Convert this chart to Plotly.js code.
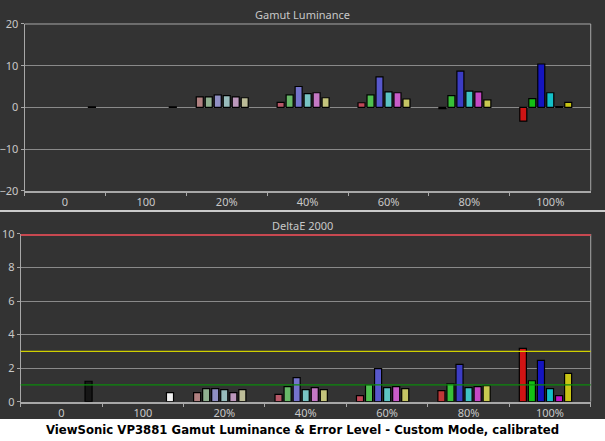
<!DOCTYPE html>
<html>
<head>
<meta charset="utf-8">
<script src="https://cdn.plot.ly/plotly-3.0.1.min.js"></script>
<style>
  html, body { margin: 0; padding: 0; background: #ffffff; }
  #chart { width: 605px; height: 441px; }
</style>
</head>
<body>
<div id="chart"></div>
<script>
// Categories along the x axis
var categories = ['0', '100', '20%', '40%', '60%', '80%', '100%'];

// Gamut luminance error (%), one array per colour
var lumRed     = [null, null, 2.5, 1.2, 1.1, -0.3, -3.3];
var lumGreen   = [null, null, 2.5, 3.0, 3.0, 2.8, 2.1];
var lumBlue    = [null, null, 3.0, 5.0, 7.3, 8.7, 10.4];
var lumCyan    = [null, null, 2.8, 3.3, 3.7, 3.9, 3.5];
var lumMagenta = [null, null, 2.5, 3.5, 3.5, 3.7, 0.2];
var lumYellow  = [null, null, 2.3, 2.3, 2.0, 1.8, 1.2];
var lumGray    = [0.1, 0.1, null, null, null, null, null];

// DeltaE 2000, one array per colour
var deRed     = [null, null, 0.54, 0.44, 0.36, 0.66, 3.18];
var deGreen   = [null, null, 0.78, 0.90, 1.01, 1.07, 1.25];
var deBlue    = [null, null, 0.78, 1.43, 1.97, 2.23, 2.47];
var deCyan    = [null, null, 0.72, 0.72, 0.84, 0.84, 0.78];
var deMagenta = [null, null, 0.54, 0.84, 0.90, 0.90, 0.36];
var deYellow  = [null, null, 0.72, 0.72, 0.78, 0.95, 1.69];
var deGray    = [1.22, 0.54, null, null, null, null, null];

// Reference levels on the DeltaE chart
var deLimits = [10, 3, 1];

// Bar colours per category (saturation grows with level)
var colRed     = ['#000', '#000', '#b08080', '#b85868', '#c04858', '#c03838', '#d01414'];
var colGreen   = ['#000', '#000', '#90b090', '#68b868', '#50c050', '#38c038', '#14c014'];
var colBlue    = ['#000', '#000', '#9090c4', '#7474cc', '#5858cc', '#3c3cc4', '#1414c0'];
var colCyan    = ['#000', '#000', '#98bcbc', '#78c4c4', '#5cc4c4', '#40c4c4', '#14c0c8'];
var colMagenta = ['#000', '#000', '#bc98bc', '#c478c4', '#c85cc8', '#c448c4', '#c014c8'];
var colYellow  = ['#000', '#000', '#bcbc98', '#c4c47c', '#c4c464', '#c8c850', '#c8c414'];
var colGray    = ['#161616', '#f0f0f0', '#000', '#000', '#000', '#000', '#000'];
var limitColors = ['#c84850', '#d0d000', '#0c8a0c'];

var txt = '#c8c8c8';
var frame = '#a8a8a8';
var font = 'Noto Sans, sans-serif';

function bars(values, colors, xa, ya) {
	return {
		type: 'bar',
		x: categories,
		y: values,
		xaxis: xa,
		yaxis: ya,
		showlegend: false,
		hoverinfo: 'skip',
		marker: { color: colors, line: { color: '#000', width: 1.2 } }
	};
}

var data = [
	bars(lumRed, colRed, 'x', 'y'),
	bars(lumGreen, colGreen, 'x', 'y'),
	bars(lumBlue, colBlue, 'x', 'y'),
	bars(lumCyan, colCyan, 'x', 'y'),
	bars(lumMagenta, colMagenta, 'x', 'y'),
	bars(lumYellow, colYellow, 'x', 'y'),
	bars(lumGray, colGray, 'x', 'y'),
	bars(deRed, colRed, 'x2', 'y2'),
	bars(deGreen, colGreen, 'x2', 'y2'),
	bars(deBlue, colBlue, 'x2', 'y2'),
	bars(deCyan, colCyan, 'x2', 'y2'),
	bars(deMagenta, colMagenta, 'x2', 'y2'),
	bars(deYellow, colYellow, 'x2', 'y2'),
	bars(deGray, colGray, 'x2', 'y2')
];

function xAxis(domain, anchor) {
	return {
		domain: domain,
		anchor: anchor,
		type: 'category',
		tickson: 'boundaries',
		ticks: 'outside',
		ticklen: 3,
		tickcolor: frame,
		ticklabelstandoff: 0,
		showgrid: false,
		showline: true,
		linecolor: frame,
		linewidth: 2,
		mirror: false,
		tickfont: { family: font, size: 11, color: txt },
		fixedrange: true
	};
}

function yAxis(domain, anchor, range, dtick) {
	return {
		domain: domain,
		anchor: anchor,
		range: range,
		dtick: dtick,
		ticks: 'outside',
		ticklen: 3,
		tickcolor: frame,
		ticklabelstandoff: 0,
		gridcolor: '#8a8a8a',
		gridwidth: 1,
		zeroline: false,
		showline: true,
		linecolor: frame,
		linewidth: 1,
		tickfont: { family: font, size: 11, color: txt },
		fixedrange: true
	};
}

var shapes = [
	// dark panel behind both charts
	{ type: 'rect', xref: 'paper', yref: 'paper', x0: 0, x1: 1, y0: 0.05, y1: 1,
	  fillcolor: '#333333', line: { width: 0 }, layer: 'below' },
	// white separator between panels
	{ type: 'line', xref: 'paper', yref: 'paper', x0: 0, x1: 1, y0: 0.5215, y1: 0.5215,
	  line: { color: '#ffffff', width: 1.5 } },
	// frame edges not covered by axis lines
	{ type: 'line', xref: 'x domain', yref: 'y domain', x0: 1, x1: 1, y0: 0, y1: 1,
	  line: { color: frame, width: 1 } },
	{ type: 'line', xref: 'x domain', yref: 'y domain', x0: 0, x1: 1, y0: 1, y1: 1,
	  line: { color: frame, width: 1 } },
	{ type: 'line', xref: 'x2 domain', yref: 'y2 domain', x0: 1, x1: 1, y0: 0, y1: 1,
	  line: { color: frame, width: 1 } }
];
deLimits.forEach(function (v, i) {
	shapes.push({
		type: 'line', xref: 'x2 domain', yref: 'y2', x0: 0, x1: 1, y0: v, y1: v,
		line: { color: limitColors[i], width: i === 0 ? 4 : 1.3 }
	});
});

var layout = {
	width: 605,
	height: 441,
	margin: { l: 0, r: 0, t: 0, b: 0 },
	paper_bgcolor: '#ffffff',
	plot_bgcolor: '#232323',
	barmode: 'group',
	bargap: 0.222,
	bargroupgap: 0.22,
	xaxis: xAxis([0.0405, 0.9764], 'y'),
	yaxis: yAxis([0.5676, 0.9456], 'x', [-20, 20], 10),
	xaxis2: xAxis([0.0342, 0.9764], 'y2'),
	yaxis2: yAxis([0.0891, 0.4694], 'x2', [0, 10], 2),
	shapes: shapes,
	annotations: [
		{ text: 'Gamut Luminance', xref: 'paper', yref: 'paper', x: 0.5, y: 0.966,
		  yanchor: 'middle', showarrow: false, font: { family: font, size: 11, color: txt } },
		{ text: 'DeltaE 2000', xref: 'paper', yref: 'paper', x: 0.5, y: 0.488,
		  yanchor: 'middle', showarrow: false, font: { family: font, size: 11, color: txt } },
		{ text: '<b>ViewSonic VP3881 Gamut Luminance &amp; Error Level - Custom Mode, calibrated</b>',
		  xref: 'paper', yref: 'paper', x: 0.5, y: 0.025, yanchor: 'middle',
		  showarrow: false, font: { family: 'DejaVu Sans, sans-serif', size: 11.7, color: '#000000' } }
	]
};

Plotly.newPlot('chart', data, layout, { displayModeBar: false, staticPlot: true });
</script>
</body>
</html>
